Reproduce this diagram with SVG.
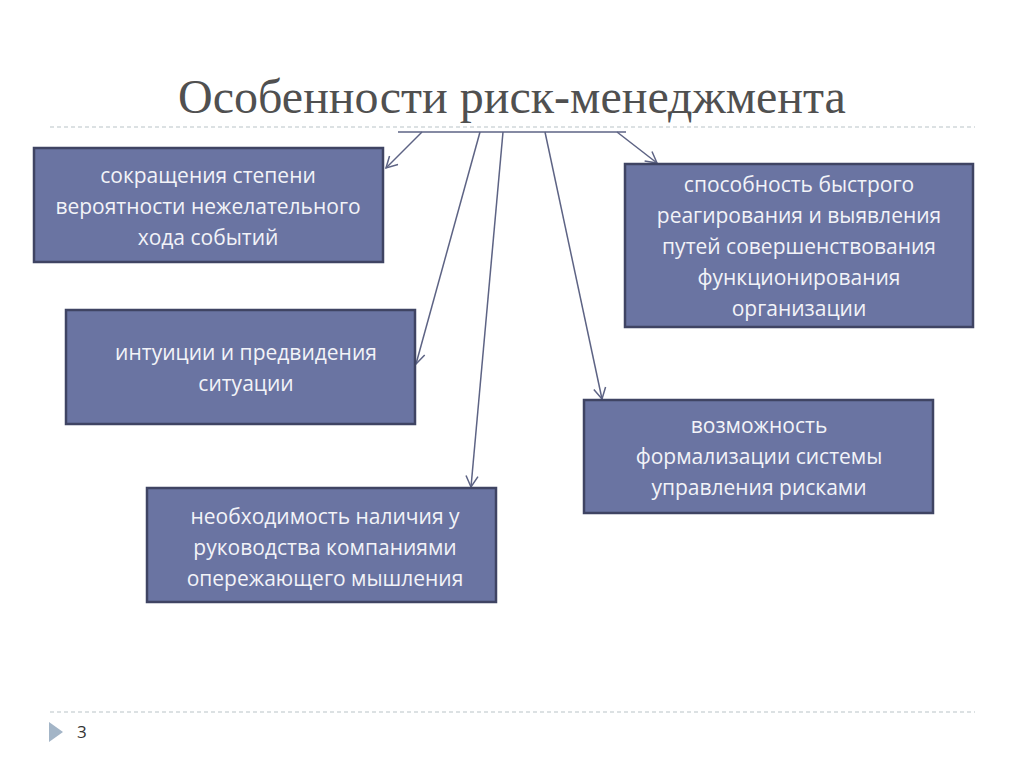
<svg xmlns="http://www.w3.org/2000/svg" width="1024" height="767" viewBox="0 0 1024 767">
<defs>
<marker id="arr" markerWidth="14" markerHeight="14" refX="12" refY="7" orient="auto" markerUnits="userSpaceOnUse">
<path d="M1,1 L12,7 L1,13" fill="none" stroke="#5d6384" stroke-width="1.5"/>
</marker>
<style>
.box{fill:#6a74a2;stroke:#3f4463;stroke-width:2.5}
.t{font-family:"Open Sans","Liberation Sans",sans-serif;font-size:21px;fill:#f2f3f8;text-anchor:middle}
.c{stroke:#5d6384;stroke-width:1.5;fill:none}
.dash{stroke:#b9c4c8;stroke-width:1.2;stroke-dasharray:4 3}
</style>
</defs>
<rect width="1024" height="767" fill="#ffffff"/>
<text x="512" y="113" font-family="'Liberation Serif',serif" font-size="48" fill="#505050" text-anchor="middle">Особенности риск-менеджмента</text>
<line class="dash" x1="50" y1="127" x2="975" y2="127"/>
<line class="dash" x1="50" y1="712" x2="975" y2="712"/>
<polygon points="49,722 63,732 49,742" fill="#a3b5c7"/>
<text x="77" y="738" font-family="'Open Sans','Liberation Sans',sans-serif" font-size="17" fill="#333">3</text>
<g id="connectors">
<line class="c" x1="398" y1="132" x2="626" y2="132"/>
<line class="c" x1="422" y1="132" x2="386" y2="168" marker-end="url(#arr)"/>
<line class="c" x1="480" y1="132" x2="416" y2="364" marker-end="url(#arr)"/>
<line class="c" x1="503" y1="132" x2="471" y2="487" marker-end="url(#arr)"/>
<line class="c" x1="545" y1="132" x2="602" y2="399" marker-end="url(#arr)"/>
<line class="c" x1="617" y1="132" x2="657" y2="163" marker-end="url(#arr)"/>
</g>
<g id="node1">
<rect class="box" x="34" y="148" width="349" height="114"/>
<text class="t" x="208" y="183">сокращения степени</text>
<text class="t" x="208" y="214">вероятности нежелательного</text>
<text class="t" x="208" y="245">хода событий</text>
</g>
<g id="node2">
<rect class="box" x="66" y="310" width="349" height="114"/>
<text class="t" x="246" y="360">интуиции и предвидения</text>
<text class="t" x="246" y="391">ситуации</text>
</g>
<g id="node3">
<rect class="box" x="147" y="488" width="349" height="114"/>
<text class="t" x="325" y="524">необходимость наличия у</text>
<text class="t" x="325" y="555">руководства компаниями</text>
<text class="t" x="325" y="586">опережающего мышления</text>
</g>
<g id="node4">
<rect class="box" x="625" y="164" width="348" height="163"/>
<text class="t" x="799" y="192">способность быстрого</text>
<text class="t" x="799" y="223">реагирования и выявления</text>
<text class="t" x="799" y="254">путей совершенствования</text>
<text class="t" x="799" y="285">функционирования</text>
<text class="t" x="799" y="316">организации</text>
</g>
<g id="node5">
<rect class="box" x="584" y="400" width="349" height="113"/>
<text class="t" x="759" y="433">возможность</text>
<text class="t" x="759" y="464">формализации системы</text>
<text class="t" x="759" y="495">управления рисками</text>
</g>
</svg>
